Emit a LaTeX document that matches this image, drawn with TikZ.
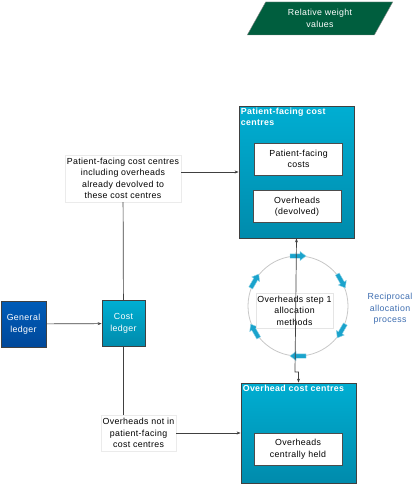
\documentclass[tikz,border=0pt]{standalone}
\usepackage{fontspec}
\setmainfont[LetterSpace=4]{Liberation Sans}
\usetikzlibrary{shapes.geometric,arrows.meta,calc}
\definecolor{tealtop}{HTML}{00AED2}
\definecolor{tealbot}{HTML}{008BAC}
\definecolor{bluetop}{HTML}{005CB8}
\definecolor{bluebot}{HTML}{00489A}
\definecolor{wgreen}{HTML}{005E3E}
\definecolor{cyanarr}{HTML}{1AA3CC}
\definecolor{recblue}{HTML}{3D6DB0}
\begin{document}
\begin{tikzpicture}[
    x=1pt, y=-1pt,
    font=\fontsize{8.8}{11.5}\selectfont,
    centres/.style={rectangle, draw=black!75, line width=0.8pt, top color=tealtop, bottom color=tealbot, minimum width=115pt},
    ledger/.style={rectangle, draw=black!75, line width=0.8pt, text=white, align=center, minimum height=46pt, inner sep=1pt},
    heading/.style={anchor=north west, text=white, font=\fontsize{8.8}{11.5}\selectfont\bfseries, align=left, inner sep=2pt},
    costbox/.style={rectangle, fill=white, draw=black!70, line width=0.6pt, align=center, minimum width=88pt, minimum height=32pt, inner sep=1pt},
    notebox/.style={rectangle, fill=white, draw=black!8, align=center, inner sep=1pt},
    flow/.style={draw=black!75, line width=0.7pt},
    tip/.style={-{Stealth[length=4pt,width=3pt]}},
    cyclearrow/.style={fill=cyanarr, draw=cyanarr!45, line width=0.4pt}
]
    \useasboundingbox (0,0) rectangle (419,487);

    \node [trapezium, trapezium left angle=64, trapezium right angle=116, trapezium stretches,
           minimum width=146pt, minimum height=33pt, fill=wgreen, draw=black!45,
           text=white, align=center] (rw) at (320,18.5) {Relative weight\\values};

    \node [centres, minimum height=132pt] (pf) at (296.5,172) {};
    \node [heading] at (pf.north west) {Patient-facing cost\\centres};
    \node [costbox] (pfc) at (298.5,159) {Patient-facing\\costs};
    \node [costbox] (ohd) at (297,206.5) {Overheads\\(devolved)};

    \node [centres, minimum height=100pt] (oh) at (298.5,433) {};
    \node [heading] at (oh.north west) {Overhead cost centres};
    \node [costbox] (ohc) at (298,449) {Overheads\\centrally held};

    \node [ledger, top color=bluetop, bottom color=bluebot, minimum width=45pt] (gl) at (23.5,324) {General\\ledger};
    \node [ledger, top color=tealtop, bottom color=tealbot, minimum width=43pt] (cl) at (123.5,323.5) {Cost\\ledger};

    \node [notebox, minimum width=116pt, minimum height=47pt] (pfnote) at (123,178.5)
        {Patient-facing cost centres\\including overheads\\already devolved to\\these cost centres};
    \node [notebox, minimum width=75pt, minimum height=36pt] (ohnote) at (138.5,433)
        {Overheads not in\\patient-facing\\cost centres};

    \node [circle, draw=black!22, line width=0.8pt, minimum size=100pt] (cyc) at (298,306) {};
    \foreach \a in {90,30,-30,-90,-150,150}
        \path [cyclearrow, shift={($(cyc)+(-\a:50)$)}, rotate=\a-90]
            (-8,-2.2) -- (2,-2.2) -- (2,-4.6) -- (8,0) -- (2,4.6) -- (2,2.2) -- (-8,2.2) -- cycle;
    \node [notebox, draw=black!10, minimum width=77pt, minimum height=35pt] (step) at (294.5,310.5)
        {Overheads step 1\\allocation\\methods};
    \node [text=recblue, align=center] (recip) at (390,309) {Reciprocal\\allocation\\process};

    \draw [flow, tip] (gl) -- (cl);
    \draw [flow] (pfnote) -- (cl);
    \draw [flow] (cl) -- (cl.south |- ohnote.north);
    \draw [flow, tip] (pfnote.east |- pf.west) -- (pf.west);
    \draw [flow, tip] (ohnote) -- (oh.west);
    \coordinate (jog) at (295,372);
    \draw [flow, {Stealth[length=4pt,width=3pt]}-{Stealth[length=4pt,width=3pt]}] (pf.south) -- (jog) -| (oh.north);
\end{tikzpicture}
\end{document}
